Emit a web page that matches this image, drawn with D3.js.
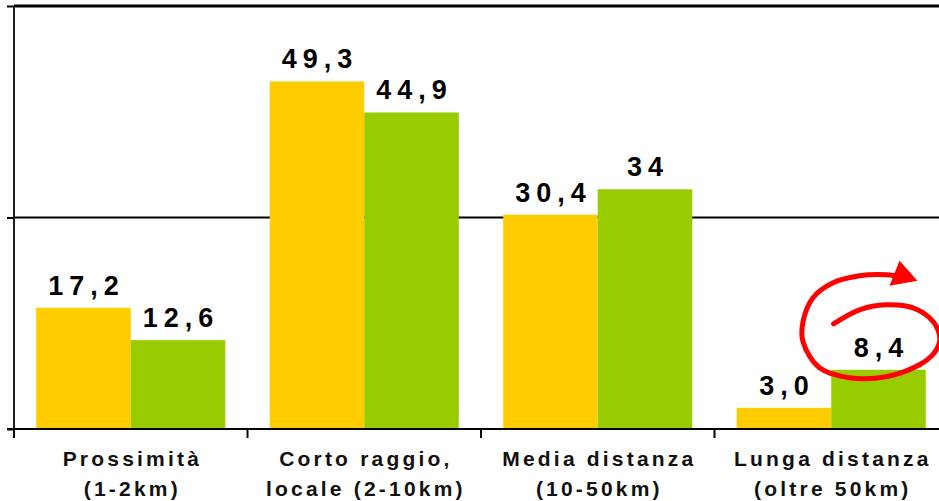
<!DOCTYPE html>
<html>
<head>
<meta charset="utf-8">
<script src="https://cdn.jsdelivr.net/npm/d3@7"></script>
<style>
  html, body { margin: 0; padding: 0; background: #ffffff; }
  svg { display: block; }
</style>
</head>
<body>
<svg id="chart" width="939" height="501"></svg>
<script>
// ---- data ----
const categories = ["Prossimità", "Corto raggio", "Media distanza", "Lunga distanza"];
const categoryLines = [
  ["Prossimità", "(1-2km)"],
  ["Corto raggio,", "locale (2-10km)"],
  ["Media distanza", "(10-50km)"],
  ["Lunga distanza", "(oltre 50km)"]
];
const seriesNames = ["serieA", "serieB"];
const seriesAValues = [17.2, 49.3, 30.4, 3.0];
const seriesBValues = [12.6, 44.9, 34, 8.4];
const seriesALabels = ["17,2", "49,3", "30,4", "3,0"];
const seriesBLabels = ["12,6", "44,9", "34", "8,4"];
const seriesColors = ["#FFCC00", "#99CC00"];
const yTickValues = [0, 30, 60];
const yDomain = [0, 60];

// ---- layout ----
const svg = d3.select("#chart");
const W = 939;
const axisX = 14, axisBottom = 429, axisTop = 6;

const y = d3.scaleLinear().domain(yDomain).range([axisBottom, axisTop]);
const x0 = d3.scaleBand().domain(categories).range([axisX, axisX + 4 * 233.5]).paddingInner(0).paddingOuter(0);
const x1 = d3.scaleBand().domain(seriesNames).range([0, x0.bandwidth()]).paddingInner(0).paddingOuter(0.235);

const rows = categories.map((c, i) => ({
  cat: c,
  lines: categoryLines[i],
  vals: [
    { s: seriesNames[0], v: seriesAValues[i], label: seriesALabels[i], color: seriesColors[0] },
    { s: seriesNames[1], v: seriesBValues[i], label: seriesBLabels[i], color: seriesColors[1] }
  ]
}));

// gridlines (non-zero ticks)
svg.append("g").selectAll("line")
  .data(yTickValues.filter(d => d > 0))
  .join("line")
  .attr("x1", axisX).attr("x2", W)
  .attr("y1", d => y(d)).attr("y2", d => y(d))
  .attr("stroke", "#000")
  .attr("stroke-width", d => d === yDomain[1] ? 3 : 2);

// bars
const groups = svg.append("g").selectAll("g")
  .data(rows).join("g")
  .attr("transform", d => `translate(${x0(d.cat)},0)`);

groups.selectAll("rect")
  .data(d => d.vals).join("rect")
  .attr("x", d => x1(d.s))
  .attr("width", x1.bandwidth())
  .attr("y", d => y(d.v))
  .attr("height", d => y(0) - y(d.v))
  .attr("fill", d => d.color);

// value labels
const valLS = 6;
groups.selectAll("text.val")
  .data(d => d.vals).join("text")
  .attr("class", "val")
  .attr("x", d => x1(d.s) + x1.bandwidth() / 2 + valLS / 2)
  .attr("y", d => y(d.v) - 13)
  .attr("text-anchor", "middle")
  .attr("font-family", "Liberation Sans, Arial, sans-serif")
  .attr("font-weight", "bold")
  .attr("font-size", 27)
  .attr("letter-spacing", valLS)
  .attr("fill", "#000")
  .text(d => d.label);

// y axis
const yAxis = d3.axisLeft(y).tickValues(yTickValues).tickSize(7).tickFormat("");
const gy = svg.append("g").attr("transform", `translate(${axisX},0)`).call(yAxis);
gy.select(".domain").attr("stroke", "#222").attr("stroke-width", 2).attr("d", `M0,${axisTop}V${axisBottom}`);
gy.selectAll(".tick line").attr("stroke", "#000").attr("stroke-width", 2);

// x axis baseline
svg.append("line")
  .attr("x1", axisX - 7).attr("x2", W)
  .attr("y1", y(0)).attr("y2", y(0))
  .attr("stroke", "#000").attr("stroke-width", 2);

// x ticks at group boundaries
svg.append("g").selectAll("line")
  .data(categories).join("line")
  .attr("x1", d => x0(d)).attr("x2", d => x0(d))
  .attr("y1", y(0)).attr("y2", y(0) + 9)
  .attr("stroke", "#000").attr("stroke-width", 2);

// category labels
const catLS = 3.2;
const catText = svg.append("g").selectAll("text")
  .data(rows).join("text")
  .attr("text-anchor", "middle")
  .attr("font-family", "Liberation Sans, Arial, sans-serif")
  .attr("font-weight", "bold")
  .attr("font-size", 21)
  .attr("letter-spacing", catLS)
  .attr("fill", "#111");
catText.selectAll("tspan")
  .data(d => d.lines.map(l => ({ l, cx: x0(d.cat) + x0.bandwidth() / 2 })))
  .join("tspan")
  .attr("x", d => d.cx + catLS / 2)
  .attr("y", (d, i) => 466 + i * 30)
  .text(d => d.l);

// red spiral annotation around the last green bar label
const last = rows[rows.length - 1];
const ax = x0(last.cat) + x1(seriesNames[1]) + x1.bandwidth() / 2;
const ay = y(last.vals[1].v);
const spiral = [
  [-45, -46], [-19, -60], [7.5, -65], [34.5, -62], [51, -52], [59.5, -40], [61, -28],
  [55, -16], [41, -5], [7.5, 7], [-29, 8], [-59, -2], [-75.5, -28], [-75.5, -48],
  [-65.5, -72], [-45.5, -87], [-19, -94], [7.5, -95], [27.5, -92]
];
svg.append("path")
  .attr("d", d3.line().curve(d3.curveCatmullRom)(spiral.map(p => [ax + p[0], ay + p[1]])))
  .attr("fill", "none")
  .attr("stroke", "#FF0000")
  .attr("stroke-width", 5)
  .attr("stroke-linecap", "round");
const head = [[21, -109], [39, -89], [11, -84]];
svg.append("path")
  .attr("d", d3.line()(head.map(p => [ax + p[0], ay + p[1]])) + "Z")
  .attr("fill", "#FF0000");
</script>
</body>
</html>
